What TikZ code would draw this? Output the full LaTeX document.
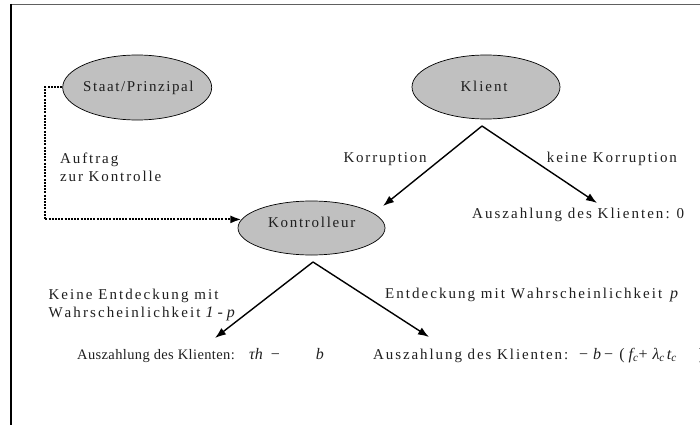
\documentclass[tikz,border=0pt]{standalone}
\usepackage{fontspec}
\setmainfont{Liberation Serif}
\usetikzlibrary{shapes.geometric,arrows.meta}
\definecolor{ellfill}{HTML}{C0C0C0}
\definecolor{txtcol}{HTML}{1E1E1E}
\definecolor{framegray}{HTML}{606060}
% letter spacing through inter-character tokens
\newdimen\lsdim \lsdim=0pt
\newcount\lsc
\lsc=33
\loop \XeTeXcharclass\lsc=7 \advance\lsc by 1 \ifnum\lsc<127 \repeat
\XeTeXinterchartoks 7 7 = {\kern\lsdim}
\XeTeXinterchartoks 7 4095 = {\kern\lsdim}
\XeTeXinterchartokenstate=1
\newcommand{\fitw}[2]{%
  \setbox0\hbox{\lsdim=0pt #2}%
  \setbox2\hbox{\lsdim=1pt #2}%
  \lsdim=\dimexpr(#1-\wd0)*65536/\numexpr\wd2-\wd0\relax\relax
  #2\lsdim=0pt}
\newcommand{\mfnt}{\lsdim=0pt\fontsize{16}{18}\selectfont}
\tikzset{
  ellbox/.style={ellipse, draw=black, line width=0.7pt, fill=ellfill, inner sep=0pt},
  lbl/.style={anchor=base west, inner sep=0pt, text=txtcol, font=\fontsize{15}{18}\selectfont},
  lblsm/.style={anchor=base west, inner sep=0pt, text=txtcol, font=\fontsize{14.5}{18}\selectfont},
  ctr/.style={anchor=base, inner sep=0pt, text=txtcol, font=\fontsize{15}{18}\selectfont},
  branch/.style={line width=1.4pt, -{Latex[length=11pt,width=8pt]}},
  dotline/.style={line width=2pt, dash pattern=on 2pt off 1.2pt, -{Latex[length=11pt,width=8pt]}},
}
\begin{document}
\begin{tikzpicture}[x=1pt,y=-1pt]
\useasboundingbox (0,0) rectangle (700,425);
% frame
\draw[framegray, line width=1pt] (11,4.5) -- (700,4.5);
\draw[black, line width=1.2pt] (11,4) -- (11,425);
% ellipses
\node[ellbox, minimum width=149pt, minimum height=65pt] (staat) at (137.2,87.5) {};
\node[ellbox, minimum width=148pt, minimum height=64pt] (klient) at (486,87) {};
\node[ellbox, minimum width=147pt, minimum height=54pt] (kon) at (311.5,228) {};
\node[ctr] (staattxt) at (139.2,91.5) {\fitw{112pt}{Staat/Prinzipal}};
\node[ctr] (klienttxt) at (485,92) {\fitw{49pt}{Klient}};
\node[ctr] (kontxt) at (312.5,227) {\fitw{89pt}{Kontrolleur}};
% branch points
\coordinate (kA) at (482,126);
\coordinate (kL) at (383,206);
\coordinate (kR) at (597,203);
\coordinate (cA) at (313,262);
\coordinate (cL) at (215,338);
\coordinate (cR) at (429,337);
\draw[branch] (kA) -- (kL);
\draw[branch] (kA) -- (kR);
\draw[branch] (cA) -- (cL);
\draw[branch] (cA) -- (cR);
% dotted control order
\draw[dotline] (staat.west) -- ++(-17.7,0) |- (kon.173);
% labels
\node[lbl] (auftrag) at (60,163.3) {\fitw{60pt}{Auftrag}};
\node[lbl] (zurkon) at (60,181.7) {\fitw{103pt}{zur Kontrolle}};
\node[lbl] (korr) at (343.3,162.7) {\fitw{85pt}{Korruption}};
\node[lbl] (keinekorr) at (546.7,162.7) {\fitw{132pt}{keine Korruption}};
\node[lbl] (pay0) at (472,218) {\fitw{214pt}{Auszahlung des Klienten: 0}};
\node[lbl] (keineent) at (48.3,299) {\fitw{172pt}{Keine Entdeckung mit}};
\node[lbl] (wahrsch) at (48.3,317) {\fitw{154pt}{Wahrscheinlichkeit}{\mfnt\hspace{3pt}\textit{1 - p}}};
\node[lbl] (ent) at (385,298) {\fitw{279pt}{Entdeckung mit Wahrscheinlichkeit}{\mfnt\hspace{6pt}\textit{p}}};
\node[lblsm] (payL) at (77,359) {\fitw{158pt}{Auszahlung des Klienten:}{\mfnt\hspace{14pt}\textit{τh}\hspace{8pt}−\hspace{36pt}\textit{b}}};
\node[lbl] (payR) at (373,359) {\fitw{197pt}{Auszahlung des Klienten:}{\mfnt\hspace{9pt}−\hspace{5pt}\textit{b}\hspace{3pt}−\hspace{6pt}(\hspace{4pt}\textit{f}\textsubscript{\textit{c}}\hspace{0pt}+\hspace{5pt}\textit{λ}\textsubscript{\textit{c}}\hspace{2pt}\textit{t}\textsubscript{\textit{c}}\hspace{22pt})}};
\end{tikzpicture}
\end{document}
